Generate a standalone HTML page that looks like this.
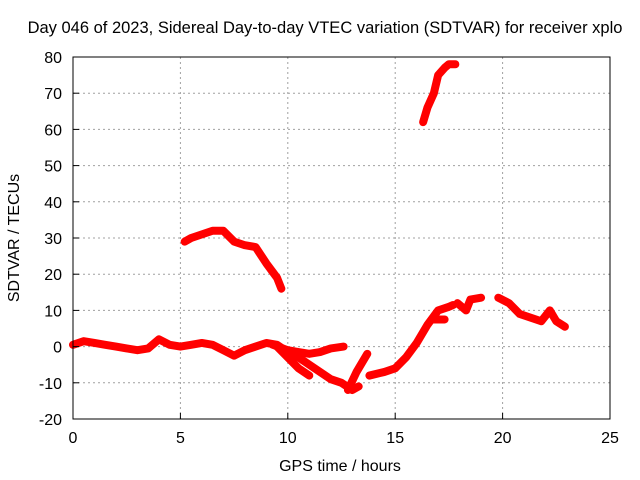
<!DOCTYPE html>
<html><head><meta charset="utf-8"><style>
body{margin:0;background:#fff;}
svg{display:block;font-family:"Liberation Sans",sans-serif;}
</style></head><body>
<svg id="chart" width="640" height="480">
<rect width="640" height="480" fill="#fff"/>
<text x="325" y="33" text-anchor="middle" font-size="16.5">Day 046 of 2023, Sidereal Day-to-day VTEC variation (SDTVAR) for receiver xplo</text>
<text x="340" y="471" text-anchor="middle" font-size="16">GPS time / hours</text>
<text transform="translate(19,238) rotate(-90)" text-anchor="middle" font-size="16">SDTVAR / TECUs</text>
<g id="grid"></g><g id="marks"></g><g id="axes"></g>
</svg>
<script>
const xTicks=[0,5,10,15,20,25];
const yTicks=[-20,-10,0,10,20,30,40,50,60,70,80];
const segAT=[0,0.5,1,1.5,2,2.5,3,3.5,4,4.5,5,5.5,6,6.5,7,7.5,8,8.5,9,9.5,10,10.5,11,11.5,12,12.5,13,13.3];
const segAV=[0.5,1.5,1,0.5,0,-0.5,-1,-0.5,2,0.5,0,0.5,1,0.5,-1,-2.5,-1,0,1,0.5,-1.5,-3,-5,-7,-9,-10,-12,-11];
const segBT=[9.3,10,10.5,11,11.5,12,12.6];
const segBV=[0.5,-1,-1.5,-2,-1.5,-0.5,0];
const segCT=[9.5,10,10.5,11];
const segCV=[0,-3,-6,-8];
const segDT=[12.8,13.2,13.7];
const segDV=[-12,-7,-2];
const segET=[13.8,14.5,15,15.5,16,16.5,17,17.5,17.7];
const segEV=[-8,-7,-6,-3,1,6,10,11,11.5];
const segFT=[16.8,17.3];
const segFV=[7.5,7.5];
const segGT=[17.9,18.3,18.5,19];
const segGV=[12,10,13,13.5];
const segHT=[19.8,20.3,20.8,21.3,21.8,22.2,22.5,22.9];
const segHV=[13.5,12,9,8,7,10,7,5.5];
const segIT=[5.2,5.5,6,6.5,7,7.5,8,8.5,9,9.5,9.7];
const segIV=[29,30,31,32,32,29,28,27.5,23,19,16];
const segJT=[16.3,16.5,16.8,17,17.3,17.5,17.8];
const segJV=[62,66,70,75,77,78,78];
const X0=73,X1=610,Y0=419,Y1=57;
const sx=t=>X0+(t-0)/(25-0)*(X1-X0);
const sy=v=>Y0-(v+20)/(100)*(Y0-Y1);
const NS="http://www.w3.org/2000/svg";
const grid=document.getElementById('grid'),axes=document.getElementById('axes'),marks=document.getElementById('marks');
function mk(tag,attrs,parent){const e=document.createElementNS(NS,tag);for(const k in attrs)e.setAttribute(k,attrs[k]);parent.appendChild(e);return e;}
xTicks.forEach(t=>{
  if(t>0&&t<25){const g=mk('line',{x1:sx(t),x2:sx(t),y1:Y1,y2:Y0,stroke:'#a0a0a0','stroke-dasharray':'2,3'},grid);
  
  }
  const tk=mk('line',{x1:sx(t),x2:sx(t),y1:Y0,y2:Y0-6,stroke:'#000'},axes);
  
  
  const l=mk('text',{x:sx(t),y:Y0+24,'text-anchor':'middle','font-size':'16'},axes);l.textContent=t;
  
  
});
yTicks.forEach(v=>{
  if(v>-20&&v<80){const g=mk('line',{x1:X0,x2:X1,y1:sy(v),y2:sy(v),stroke:'#a0a0a0','stroke-dasharray':'2,3'},grid);
  
  }
  const tk=mk('line',{x1:X0,x2:X0+6,y1:sy(v),y2:sy(v),stroke:'#000'},axes);
  
  
  const l=mk('text',{x:X0-11,y:sy(v)+6,'text-anchor':'end','font-size':'16'},axes);l.textContent=v;
  
  
});
const frame=mk('rect',{x:X0,y:Y1,width:X1-X0,height:Y0-Y1,fill:'none',stroke:'#000'},axes);


const segs=[[segAT,segAV],[segBT,segBV],[segCT,segCV],[segDT,segDV],[segET,segEV],[segFT,segFV],[segGT,segGV],[segHT,segHV],[segIT,segIV],[segJT,segJV]];
segs.forEach(([ts,vs])=>{
  const p=mk('polyline',{points:ts.map((t,i)=>sx(t)+','+sy(vs[i])).join(' '),fill:'none',stroke:'#ff0000','stroke-width':8,'stroke-linejoin':'round','stroke-linecap':'round'},marks);
  
  
});
</script>
</body></html>
